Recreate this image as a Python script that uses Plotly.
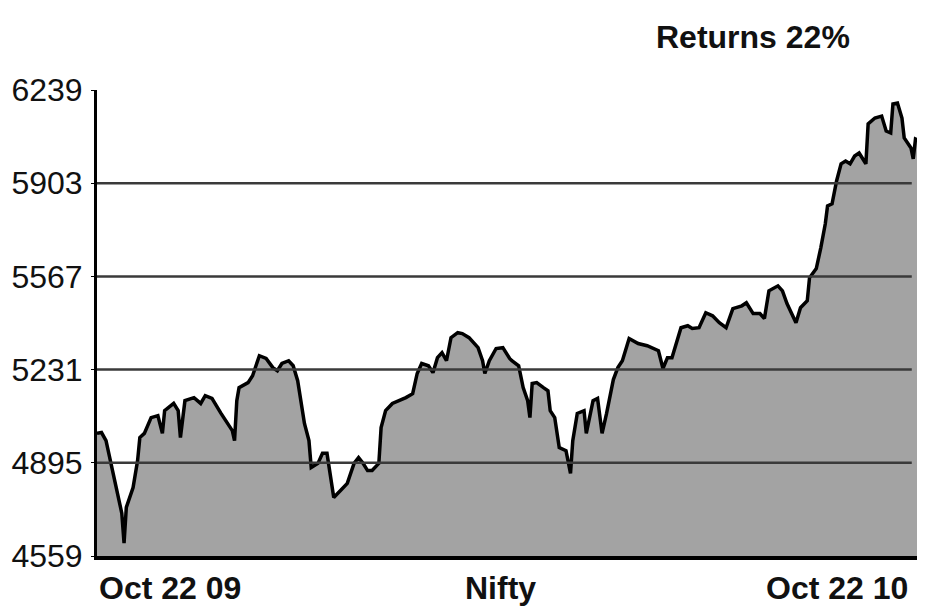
import pandas as pd
import plotly.graph_objects as go

# Day offsets from 22 Oct 2009 and Nifty closing levels
day_offsets = [0, 2, 4, 7, 9, 11, 12, 13, 16, 18, 19, 21, 24, 27, 29, 30, 34, 36, 37, 39,
               43, 46, 48, 51, 55, 58, 60, 61, 62, 63, 67, 69, 71, 72, 75, 78, 80, 82, 85, 87,
               89, 91, 92, 94, 95, 98, 100, 102, 104, 105, 108, 111, 114, 116, 118, 120, 122, 125, 126, 128,
               131, 134, 137, 140, 142, 144, 147, 149, 151, 153, 155, 157, 160, 162, 165, 169, 171, 172, 174, 177,
               180, 183, 184, 187, 189, 191, 192, 193, 195, 198, 200, 201, 203, 205, 208, 210, 211, 213, 216, 217,
               220, 222, 224, 226, 229, 231, 233, 236, 240, 244, 246, 249, 251, 253, 255, 259, 262, 264, 267, 270,
               273, 276, 279, 282, 286, 288, 291, 294, 296, 298, 302, 304, 306, 310, 312, 315, 316, 319, 321, 323,
               324, 326, 328, 330, 332, 334, 336, 338, 341, 342, 345, 348, 350, 352, 353, 355, 357, 358, 361, 362,
               363, 365]
nifty = [5001, 5004, 4975, 4867, 4785, 4713, 4605, 4734, 4806, 4903, 4986, 5001, 5058, 5065, 5001, 5083, 5109, 5083, 4986, 5119,
         5130, 5109, 5137, 5127, 5073, 5037, 5011, 4975, 5119, 5166, 5184, 5209, 5263, 5281, 5271, 5238, 5227, 5253, 5263, 5245,
         5191, 5083, 5037, 4975, 4878, 4893, 4929, 4929, 4831, 4770, 4795, 4821, 4893, 4914, 4893, 4867, 4867, 4893, 5022, 5083,
         5109, 5119, 5130, 5144, 5217, 5253, 5245, 5220, 5274, 5292, 5263, 5346, 5364, 5361, 5346, 5310, 5263, 5217, 5263, 5307,
         5310, 5271, 5263, 5245, 5166, 5119, 5058, 5181, 5184, 5166, 5155, 5083, 5058, 4950, 4939, 4857, 4975, 5073, 5083, 5001,
         5119, 5127, 5001, 5073, 5195, 5238, 5263, 5343, 5325, 5317, 5310, 5299, 5235, 5274, 5274, 5382, 5389, 5379, 5382, 5436,
         5425, 5400, 5382, 5451, 5461, 5472, 5433, 5433, 5415, 5515, 5533, 5515, 5469, 5400, 5454, 5479, 5562, 5595, 5670, 5757,
         5821, 5829, 5911, 5973, 5983, 5973, 6001, 6012, 5973, 6117, 6138, 6145, 6091, 6084, 6189, 6192, 6138, 6066, 6030, 5991,
         6062, 6055]

y_ticks = [4559, 4895, 5231, 5567, 5903, 6239]
start_label = "Oct 22 09"
end_label = "Oct 22 10"
index_name = "Nifty"
title_text = "Returns 22%"

start_date = pd.Timestamp("2009-10-22")
end_date = pd.Timestamp("2010-10-22")
dates = [start_date + pd.Timedelta(days=d) for d in day_offsets]

FONT = "Liberation Sans, Arial, sans-serif"
TXT = "#111111"

fig = go.Figure()
fig.add_trace(go.Scatter(
    x=dates, y=nifty, mode="lines",
    line=dict(color="#000000", width=3.5),
    fill="tozeroy", fillcolor="#a3a3a3",
    hoverinfo="x+y", showlegend=False,
))

shapes = []
for v in y_ticks[1:-1]:
    shapes.append(dict(type="line", xref="paper", yref="y", x0=0, x1=0.99, y0=v, y1=v,
                       line=dict(color="#3a3a3a", width=2.5), layer="above"))

# page body has an 8px default margin, so the figure is sized to the remaining area
fig.update_layout(
    width=917, height=605,
    margin=dict(l=89, r=5, t=82, b=57),
    paper_bgcolor="white", plot_bgcolor="white",
    font=dict(family=FONT, color=TXT),
    shapes=shapes,
    xaxis=dict(range=[start_date, end_date], showgrid=False, zeroline=False,
               showticklabels=False, ticks="", showline=True, linecolor="#000000",
               linewidth=4, automargin=False),
    yaxis=dict(range=[y_ticks[0], y_ticks[-1]], tickvals=y_ticks,
               ticktext=[str(v) for v in y_ticks], showgrid=False, zeroline=False,
               showline=True, linecolor="#000000", linewidth=3, automargin=False,
               ticks="outside", ticklen=3, tickcolor="#000000", ticklabelstandoff=2,
               tickfont=dict(family=FONT, size=32, color=TXT)),
    annotations=[
        dict(text="<b>" + title_text + "</b>", xref="paper", yref="paper", x=0.917, y=1.114,
             xanchor="right", yanchor="middle", showarrow=False,
             font=dict(family=FONT, size=32, color=TXT)),
        dict(text="<b>" + start_label + "</b>", xref="paper", yref="paper", x=0.0, y=-0.069,
             xanchor="left", yanchor="middle", showarrow=False,
             font=dict(family=FONT, size=32, color=TXT)),
        dict(text="<b>" + index_name + "</b>", xref="paper", yref="paper", x=0.49, y=-0.069,
             xanchor="center", yanchor="middle", showarrow=False,
             font=dict(family=FONT, size=32, color=TXT)),
        dict(text="<b>" + end_label + "</b>", xref="paper", yref="paper", x=0.988, y=-0.069,
             xanchor="right", yanchor="middle", showarrow=False,
             font=dict(family=FONT, size=32, color=TXT)),
    ],
)

fig.write_html("out.html")
